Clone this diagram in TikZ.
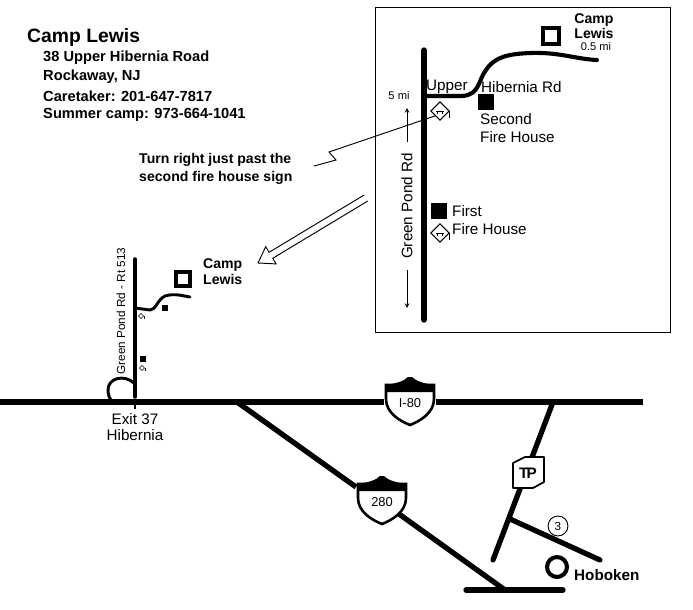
\documentclass[tikz,border=0pt]{standalone}
\usepackage{fontspec}
\setmainfont{Liberation Sans}
\begin{document}
\begin{tikzpicture}[x=0.03cm,y=-0.03cm,
  road/.style={line width=4.5pt,line cap=round},
  thin/.style={line width=0.8pt},
  lbl/.style={inner sep=0,anchor=west,font=\fontsize{13}{14}\selectfont},
  blbl/.style={inner sep=0,anchor=west,font=\bfseries\fontsize{13}{14}\selectfont},
  fh/.style={fill=black,inner sep=0,minimum size=13.6pt},
  sfh/.style={fill=black,inner sep=0,minimum size=5pt}]
\useasboundingbox (0,0) rectangle (693,609);
% title
\node[inner sep=0,anchor=west,font=\bfseries\fontsize{16.5}{18}\selectfont] (title) at (27,37) {Camp Lewis};
\node[blbl,font=\bfseries\fontsize{12.5}{14}\selectfont] (a1) at (43,58) {38 Upper Hibernia Road};
\node[blbl,font=\bfseries\fontsize{12.5}{14}\selectfont] (a2) at (43,77) {Rockaway, NJ};
\node[blbl,font=\bfseries\fontsize{12.5}{14}\selectfont] (a3) at (43,96) {Caretaker: 201-647-7817};
\node[blbl,font=\bfseries\fontsize{12.5}{14}\selectfont] (a4) at (43,115) {Summer camp: 973-664-1041};
% inset
\node[draw,thin,minimum width=295*0.03cm,minimum height=325*0.03cm,inner sep=0] (box) at (522.5,169.5) {};
\coordinate (gt) at (424,50); \coordinate (gb) at (424,320);
\draw[road] (gt) -- (gb);
\coordinate (uh0) at (425,96);
\draw[line width=3.5pt,line cap=round] (uh0) -- (462,96) .. controls (480,95) and (478,80) .. (486,70) .. controls (495,56) and (510,54) .. (530,53) .. controls (560,52) and (575,59) .. (597,60);
\node[draw,line width=3pt,minimum size=14pt,inner sep=0] (camp) at (551,36) {};
\node[blbl,align=center,anchor=center,font=\bfseries\fontsize{12}{12.5}\selectfont] (campt) at (594,26) {Camp\\Lewis};
\node[lbl,anchor=center,font=\fontsize{9.5}{10}\selectfont] (half) at (596,47) {0.5 mi};
\node[lbl,anchor=base west] (upper) at (426,90) {Upper};
\node[lbl,anchor=base west] (hib) at (481,92) {Hibernia Rd};
\node[lbl,anchor=center,font=\fontsize{9.5}{10}\selectfont] (fivemi) at (399,96) {5 mi};
\coordinate (a5t) at (407,108); \coordinate (a5b) at (407,142);
\draw[thin,-stealth] (a5b) -- (a5t);
\coordinate (b5t) at (407,270); \coordinate (b5b) at (407,308);
\draw[thin,-stealth] (b5t) -- (b5b);
\node[lbl,anchor=center,rotate=90] (gpr) at (407,206) {Green Pond Rd};
\node[fh] (sq2) at (486,102) {};
\node[lbl,anchor=base west] (sec) at (480,124) {Second};
\node[lbl,anchor=base west] (sec2) at (480,142) {Fire House};
\node[fh] (sq1) at (439,211) {};
\node[lbl,anchor=base west] (fir) at (452,216) {First};
\node[lbl,anchor=base west] (fir2) at (452,234) {Fire House};
\foreach \n/\y in {s2/111,s1/233}{
  \node[draw,thin,shape=rectangle,rotate=45,minimum size=11pt,inner sep=0] (\n) at (440,\y) {};
  \draw[thin] (\n.south east) -- ++(0,7);
  \draw[line width=0.6pt] ([xshift=-3pt]\n.center) -- ([xshift=3pt]\n.center);
  \draw[line width=0.4pt] ([xshift=-2pt,yshift=-1pt]\n.center) -- ([xshift=-2pt,yshift=-2.5pt]\n.center) ([xshift=2pt,yshift=-1pt]\n.center) -- ([xshift=2pt,yshift=-2.5pt]\n.center);
}
% callout
\node[blbl,align=left,font=\bfseries\fontsize{12}{16}\selectfont] (call) at (139,169) {Turn right just past the\\second fire house sign};
\coordinate (z1) at (329,152); \coordinate (z2) at (336,160); \coordinate (z3) at (314,166);
\draw[thin] (s2.west) -- (z1) -- (z2) -- (z3);
% hollow arrow
\draw[thin,line join=miter] (367.8,201.0) -- (272.7,258.3) -- (276.1,263.9) -- (258,263) -- (265.7,246.7) -- (269.1,252.3) -- (364.2,195.0);
% small map
\coordinate (st) at (135,259); \coordinate (sb) at (135,397);
\draw[line width=3pt,line cap=round] (st) -- (sb);
\draw[line width=2.5pt,line cap=round] (135,308) -- (150,310) .. controls (156,310) and (157,300) .. (165,296) .. controls (175,293) and (183,296) .. (190,297);
\node[draw,line width=3pt,minimum size=12pt,inner sep=0] (scamp) at (183,279) {};
\node[blbl,align=left,anchor=west,font=\bfseries\fontsize{12}{13.5}\selectfont] (scampt) at (203,272) {Camp\\Lewis};
\node[sfh] (ssq2) at (165,308) {};
\node[sfh] (ssq1) at (143,359) {};
\foreach \n/\x/\y in {ss2/141/316,ss1/142/368}{
  \node[draw,line width=0.4pt,rotate=45,minimum size=3pt,inner sep=0] (\n) at (\x,\y) {};
  \draw[line width=0.4pt] (\n.south east) -- ++(0,2.5);
}
\draw[line width=2.5pt] (134,383) .. controls (124,374) and (108,378) .. (108,390) .. controls (108,396) and (110,399) .. (112,401);
\node[lbl,anchor=center,rotate=90,font=\fontsize{10}{11}\selectfont] (sgpr) at (121,311) {Green Pond Rd - Rt 513};
\draw[line width=2pt] (135,404) -- (135,409);
\node[lbl,anchor=center,align=center] (exit) at (135,427) {Exit 37\\Hibernia};
% highways
\coordinate (i0) at (0,402); \coordinate (i1) at (643,402);
\draw[road,line cap=butt] (i0) -- (384,402);
\draw[road,line cap=butt] (436,402) -- (i1);
\newcommand\myshield[3]{%
  \begin{scope}[shift={(#1,#2)}]
  \draw[fill=white,line width=2.2pt] (-24,-16) -- (-24,-2) .. controls (-24,12) and (-10,20) .. (0,24) .. controls (10,20) and (24,12) .. (24,-2) -- (24,-16) -- cycle;
  \fill (-24,-16) -- (-24,-9) -- (24,-9) -- (24,-16) .. controls (12,-18) and (6,-20) .. (2,-24) -- (-2,-24) .. controls (-6,-20) and (-12,-18) .. cycle;
  \node[inner sep=0,font=\fontsize{11}{12}\selectfont] (#3) at (0,2) {#3};
  \end{scope}}
\myshield{410}{401}{I-80}
\coordinate (r0) at (237,402); \coordinate (r1) at (356,487);
\draw[road,line cap=butt] (r0) -- (r1);
\coordinate (r2) at (399,514); \coordinate (r3) at (505,590);
\draw[road,line cap=butt] (r2) -- (r3);
\myshield{382}{500}{280}
\coordinate (bl0) at (466,590); \coordinate (bl1) at (563,590);
\draw[road] (bl0) -- (bl1);
% turnpike
\coordinate (t0) at (553,402); \coordinate (t1) at (493,560);
\draw[road,line cap=round] (t0) -- (t1);
\draw[fill=white,line width=1.5pt,line join=round] (513,463) -- (525,457) -- (544,457) -- (544,482) -- (533,488) -- (513,488) -- cycle;
\node[inner sep=0,font=\bfseries\fontsize{13}{13}\selectfont] (tp) at (528,473) {T\kern-1.5ptP};
\coordinate (br0) at (510,519); \coordinate (br1) at (600,560);
\draw[road] (br0) -- (br1);
\node[draw,thin,circle,minimum size=17pt,inner sep=0,fill=white,font=\fontsize{10}{10}\selectfont] (r3c) at (558,526) {3};
\node[draw,circle,line width=3.5pt,minimum size=17pt,inner sep=0] (hob) at (557,567) {};
\node[blbl,anchor=base west] (hobt) at (574,580) {Hoboken};
\end{tikzpicture}
\end{document}
